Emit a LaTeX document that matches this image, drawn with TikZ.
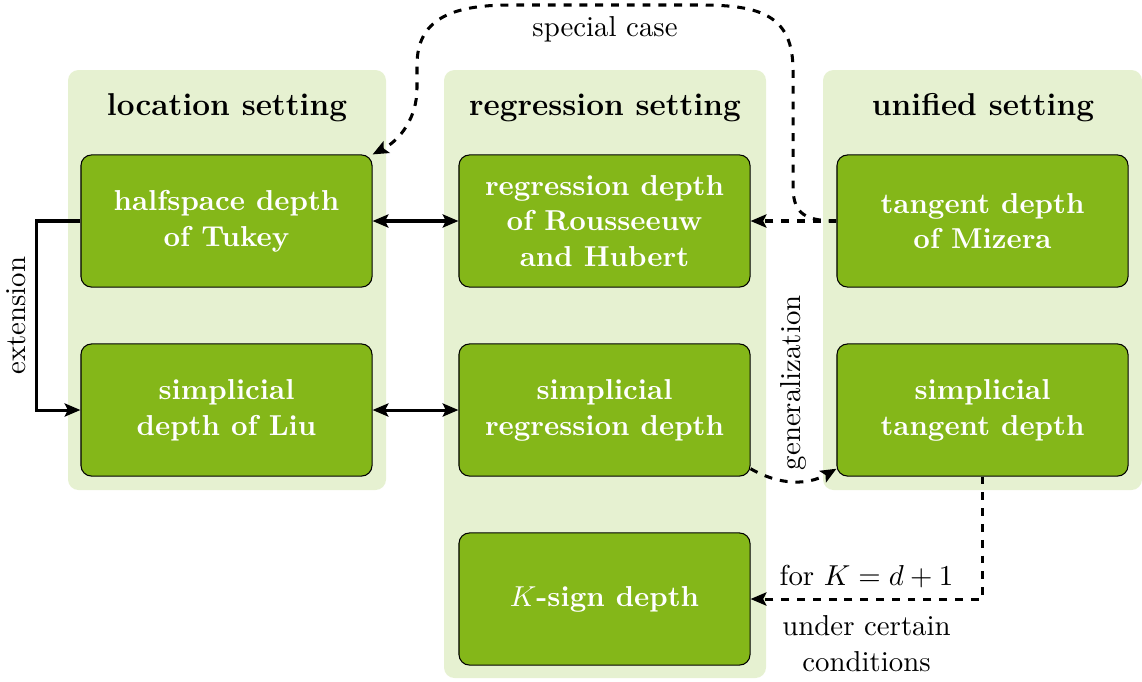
\documentclass[tikz,border=0pt,11pt]{standalone}
\usetikzlibrary{arrows.meta}

\definecolor{depthgreen}{RGB}{132,183,25}

\begin{document}
\begin{tikzpicture}
  [x=0.38pt,y=-0.38pt,>={Stealth[length=6pt,width=5pt,inset=1.2pt]},
   depthbox/.style={draw,thin,fill=depthgreen,rounded corners=4pt,text=white,font=\bfseries,align=center,
                    minimum width=110.6pt,minimum height=50.2pt,inner sep=0pt},
   settingbox/.style={fill=depthgreen!20,rounded corners=4pt},
   heading/.style={font=\large\bfseries},
   link/.style={line width=1.15pt},
   linkdash/.style={link,dashed}]

  \useasboundingbox (0,0) rectangle (1142,681);

  % the three settings
  \fill[settingbox] (68,70) rectangle (386,490);
  \fill[settingbox] (444,70) rectangle (766,678);
  \fill[settingbox] (823,70) rectangle (1142,490);

  \node[heading] (location) at (227,108) {location setting};
  \node[heading] (regression) at (605,108) {regression setting};
  \node[heading] (unified) at (983,108) {unified setting};

  % depth notions
  \node[depthbox] (halfspace) at (226.5,221) {halfspace depth\\of Tukey};
  \node[depthbox] (liu) at (226.5,410) {simplicial\\depth of Liu};
  \node[depthbox] (regdepth) at (604.5,221) {regression depth\\of Rousseeuw\\and Hubert};
  \node[depthbox] (simpreg) at (604.5,410) {simplicial\\regression depth};
  \node[depthbox] (ksign) at (604.5,599) {$K$-sign depth};
  \node[depthbox] (tangent) at (982.5,221) {tangent depth\\of Mizera};
  \node[depthbox] (simptan) at (982.5,410) {simplicial\\tangent depth};

  \draw[link,<->] (halfspace) -- (regdepth);
  \draw[link,<->] (liu) -- (simpreg);
  \draw[linkdash,->] (tangent) -- (regdepth);

  \draw[link,->] (halfspace.west) -- ++(-44,0) |- (liu.west)
    node[pos=0.25,rotate=90,above] {extension};

  \draw[linkdash,->] (tangent.west) .. controls (800,221) and (793,210) .. (793,185) -- (793,70)
    .. controls (793,15) and (760,5) .. (700,5) -- (510,5) node[midway,below] {special case}
    .. controls (450,5) and (417,20) .. (417,65) -- (417,88)
    .. controls (417,118) and (400,140) .. (halfspace.north east);

  \draw[linkdash,->] ([yshift=3pt]simpreg.south east) to[bend right=30]
    node[midway,rotate=90,anchor=west] {generalization} ([yshift=3pt]simptan.south west);

  \draw[linkdash,->] (simptan.south) |- (ksign.east)
    node[pos=0.75,above] {for $K=d+1$}
    node[pos=0.75,below=2pt,align=center] {under certain\\conditions};
\end{tikzpicture}
\end{document}
